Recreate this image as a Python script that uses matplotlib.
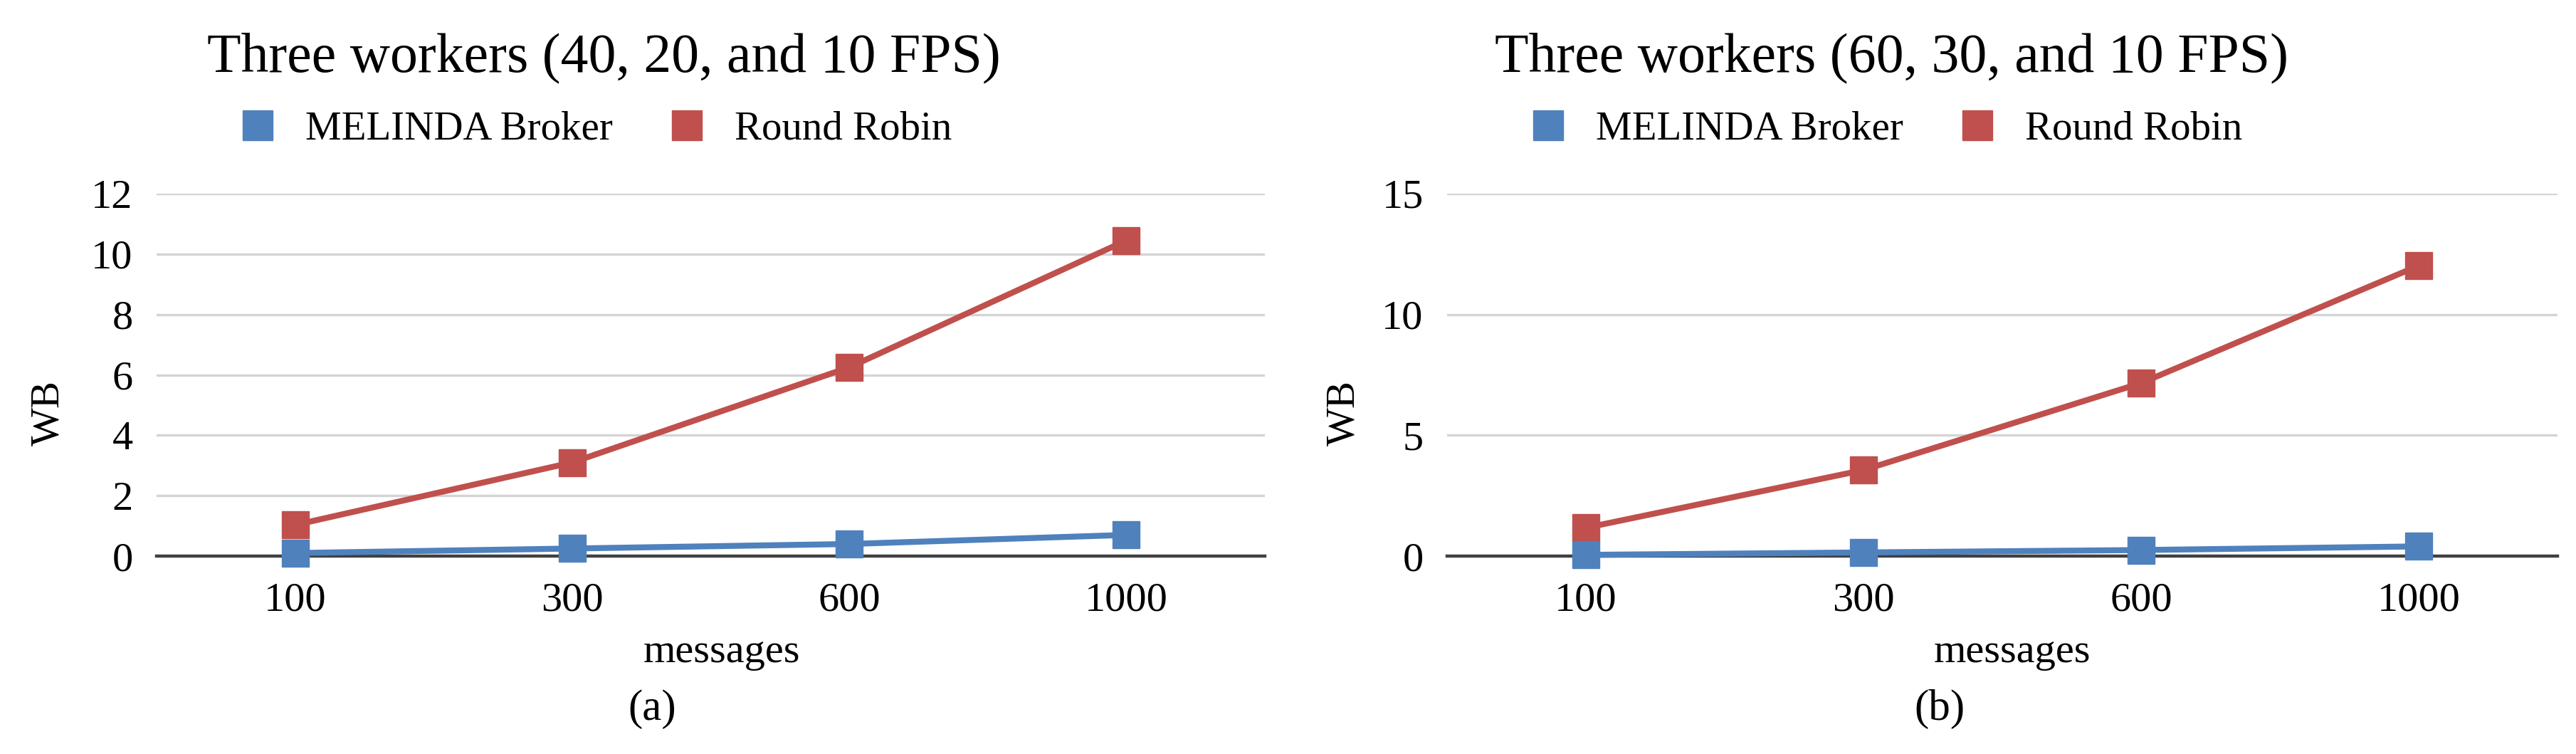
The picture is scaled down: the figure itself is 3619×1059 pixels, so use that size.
import matplotlib
matplotlib.use("Agg")
import matplotlib.pyplot as plt
from matplotlib.lines import Line2D

plt.rcParams['font.family'] = ['Liberation Serif', 'DejaVu Serif']

# ---- data ----
categories = ["100", "300", "600", "1000"]
melinda_a = [0.1, 0.25, 0.4, 0.7]
roundrobin_a = [1.03, 3.1, 6.25, 10.45]
melinda_b = [0.05, 0.15, 0.25, 0.4]
roundrobin_b = [1.17, 3.56, 7.16, 12.02]
titles = ["Three workers (40, 20, and 10 FPS)", "Three workers (60, 30, and 10 FPS)"]
yticks_a = [0, 2, 4, 6, 8, 10, 12]
yticks_b = [0, 5, 10, 15]
series_names = ["MELINDA Broker", "Round Robin"]
panel_tags = ["(a)", "(b)"]

BLUE = "#4F81BD"
RED = "#C0504D"
W, H = 3619, 1059
fig = plt.figure(figsize=(W / 100, H / 100), dpi=100)


def fx(px):
    return px / W


def fy(py):
    return 1 - py / H


panels = [
    dict(left=220, right=1777, ymax=12, yticks=yticks_a, mel=melinda_a, rr=roundrobin_a,
         title=titles[0], title_x=848, wb_x=68, msg_x=1014, tag_x=916, tag=panel_tags[0]),
    dict(left=2033, right=3593, ymax=15, yticks=yticks_b, mel=melinda_b, rr=roundrobin_b,
         title=titles[1], title_x=2658, wb_x=1888, msg_x=2827, tag_x=2725, tag=panel_tags[1]),
]

top_px, bot_px = 272, 781
for p in panels:
    ax = fig.add_axes([fx(p['left']), fy(bot_px), (p['right'] - p['left']) / W, (bot_px - top_px) / H])
    x = list(range(len(categories)))
    ax.plot(x, p['rr'], color=RED, lw=6, marker='s', markersize=28, clip_on=False, zorder=3,
            solid_joinstyle='miter')
    ax.plot(x, p['mel'], color=BLUE, lw=6, marker='s', markersize=28, clip_on=False, zorder=4)
    ax.set_xlim(-0.5, len(categories) - 0.5)
    ax.set_ylim(0, p['ymax'])
    ax.set_xticks(x)
    ax.set_xticklabels(categories)
    ax.set_yticks(p['yticks'])
    ax.set_yticklabels([str(t) for t in p['yticks']])
    ax.tick_params(axis='both', length=0, labelsize=42)
    ax.tick_params(axis='x', pad=26)
    ax.tick_params(axis='y', pad=24)
    ax.yaxis.grid(True, color='#d4d4d4', lw=2.4)
    ax.set_axisbelow(True)
    for s in ['top', 'right', 'left']:
        ax.spines[s].set_visible(False)
    ax.spines['bottom'].set_color('#404040')
    ax.spines['bottom'].set_linewidth(3.2)

    fig.text(fx(p['title_x']), fy(100), p['title'], fontsize=56, ha='center', va='baseline')
    fig.text(fx(p['wb_x']), fy(580), "WB", fontsize=41, rotation=90, ha='center', va='center')
    fig.text(fx(p['msg_x']), fy(930), "messages", fontsize=42, ha='center', va='baseline')
    fig.text(fx(p['tag_x']), fy(1011), p['tag'], fontsize=44, ha='center', va='baseline')

    handles = [Line2D([], [], ls='none', marker='s', markersize=30, color=BLUE),
               Line2D([], [], ls='none', marker='s', markersize=30, color=RED)]
    ax.legend(handles, series_names, loc='center left',
              bbox_to_anchor=(fx(p['left'] + 121), fy(182)), bbox_transform=fig.transFigure,
              ncol=2, frameon=False, fontsize=41, handlelength=0.75, handletextpad=0.8,
              columnspacing=1.45, borderpad=0, borderaxespad=0)

fig.savefig("out.png", dpi=100)
